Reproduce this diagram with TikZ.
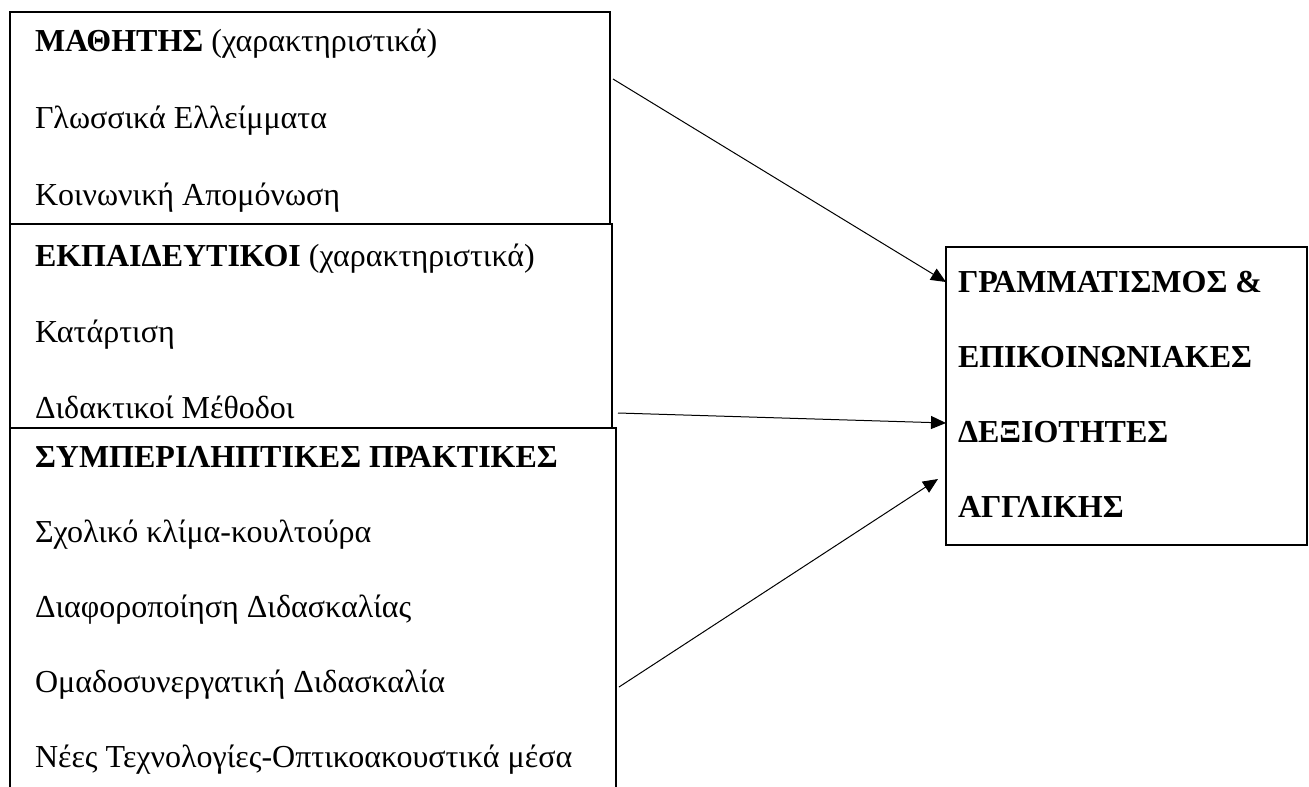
\documentclass[tikz,border=0pt]{standalone}
\usepackage{fontspec}
\setmainfont{Liberation Serif}
\usetikzlibrary{arrows.meta,positioning}

\begin{document}
\begin{tikzpicture}[x=0.4pt, y=-0.4pt]
    % Styles
    \tikzstyle{box} = [rectangle, draw, line width=0.8pt, inner sep=0pt, outer sep=0pt, anchor=north west]
    \tikzstyle{item} = [inner sep=0pt, outer sep=0pt, anchor=base west, font=\fontsize{12.8pt}{15pt}\selectfont]
    \tikzstyle{arrow} = [line width=0.4pt, -{Triangle[length=6pt,width=5.2pt]}]

    \useasboundingbox (0,0) rectangle (1309,787);

    % Boxes
    \node [box, minimum width=240pt, minimum height=84.8pt] (mathitis) at (10,12) {};
    \node [box, minimum width=240.8pt, minimum height=81.6pt] (ekp) at (mathitis.south west) {};
    \node [box, minimum width=242.4pt, minimum height=160pt] (praktikes) at (ekp.south west) {};
    \node [box, minimum width=144.4pt, minimum height=119.2pt] (gram) at (946,247) {};

    % Texts
    \node [item] (m1) at ([xshift=10pt,yshift=-15.6pt]mathitis.north west) {\textbf{ΜΑΘΗΤΗΣ} (χαρακτηριστικά)};
    \node [item] (m2) at ([yshift=-30.8pt]m1.base west) {Γλωσσικά Ελλείμματα};
    \node [item] (m3) at ([yshift=-30.8pt]m2.base west) {Κοινωνική Απομόνωση};

    \node [item] (e1) at ([xshift=10pt,yshift=-16.8pt]ekp.north west) {\textbf{ΕΚΠΑΙΔΕΥΤΙΚΟΙ} (χαρακτηριστικά)};
    \node [item] (e2) at ([yshift=-30.4pt]e1.base west) {Κατάρτιση};
    \node [item] (e3) at ([yshift=-30.4pt]e2.base west) {Διδακτικοί Μέθοδοι};

    \node [item] (p1) at ([xshift=10pt,yshift=-15.6pt]praktikes.north west) {\textbf{ΣΥΜΠΕΡΙΛΗΠΤΙΚΕΣ ΠΡΑΚΤΙΚΕΣ}};
    \node [item] (p2) at ([yshift=-30pt]p1.base west) {Σχολικό κλίμα-κουλτούρα};
    \node [item] (p3) at ([yshift=-30pt]p2.base west) {Διαφοροποίηση Διδασκαλίας};
    \node [item] (p4) at ([yshift=-30pt]p3.base west) {Ομαδοσυνεργατική Διδασκαλία};
    \node [item] (p5) at ([yshift=-30pt]p4.base west) {Νέες Τεχνολογίες-Οπτικοακουστικά μέσα};

    \node [item] (g1) at ([xshift=4.8pt,yshift=-18pt]gram.north west) {\textbf{ΓΡΑΜΜΑΤΙΣΜΟΣ \&}};
    \node [item] (g2) at ([yshift=-30pt]g1.base west) {\textbf{ΕΠΙΚΟΙΝΩΝΙΑΚΕΣ}};
    \node [item] (g3) at ([yshift=-30pt]g2.base west) {\textbf{ΔΕΞΙΟΤΗΤΕΣ}};
    \node [item] (g4) at ([yshift=-30pt]g3.base west) {\textbf{ΑΓΓΛΙΚΗΣ}};

    % Connections
    \coordinate (s1) at (613,79);
    \coordinate (s2) at (618,413);
    \coordinate (s3) at (619,687);
    \coordinate (t1) at ([yshift=-14pt]gram.north west);
    \coordinate (t2) at ([yshift=-70.4pt]gram.north west);
    \coordinate (t3) at (938,479);
    \draw[arrow] (s1) -- (t1);
    \draw[arrow] (s2) -- (t2);
    \draw[arrow] (s3) -- (t3);
\end{tikzpicture}
\end{document}
